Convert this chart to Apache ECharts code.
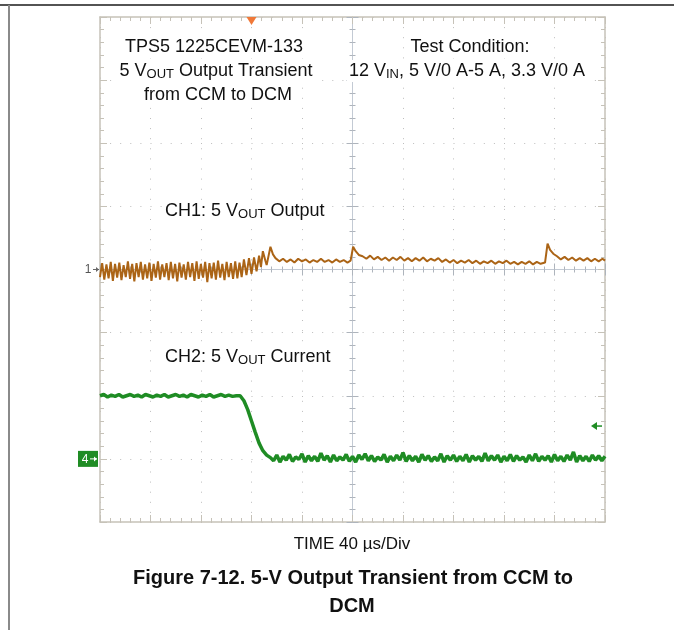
<!DOCTYPE html>
<html><head><meta charset="utf-8">
<script src="https://cdn.jsdelivr.net/npm/echarts@6/dist/echarts.min.js"></script>
<style>html,body{margin:0;padding:0;background:#fff}#c{width:674px;height:630px}</style>
</head><body><div id="c"></div>
<script>
// ---- axis ranges (time in µs, vertical in divisions) ----
const timeMin = 0, timeMax = 400, timePerDiv = 40;
const divMin = -4, divMax = 4;
const triggerTime = 120;
const ch1Ref = 0, ch2Ref = -3;

// ---- CH1: 5 V output (divisions) ----
const ch1Time = [0,1.7,3.4,5.1,6.8,8.5,10.2,11.9,13.6,15.3,17,18.7,20.4,22.1,23.8,25.5,27.2,28.9,30.6,32.3,34,35.7,37.4,39.1,40.8,42.5,44.2,45.9,47.6,49.3,51,52.7,54.4,56.1,57.8,59.5,61.2,62.9,64.6,66.3,68,69.7,71.4,73.1,74.8,76.5,78.2,79.9,81.6,83.3,85,86.7,88.4,90.1,91.8,93.5,95.2,96.9,98.6,100.3,102,103.7,105.4,107.1,108.8,110.5,112.2,114,116,118,120,122,124,126,127.5,129,131,132,135,137,139,142,145,148,151,154,157,160,163,166,169,172,175,178,181,184,187,190,193,196,198.5,200.5,202.5,205,208,211,214,217,220,223,226,229,232,235,238,241,244,247,250,253,256,259,262,265,268,271,274,277,280,283,286,289,292,295,298,301,304,307,310,313,316,319,322,325,328,331,334,337,340,343,346,349,352.5,354.5,356.5,359,362,365,368,371,374,377,380,383,386,389,392,395,398,400];
const ch1Div = [-0.12,0.10,-0.16,0.08,-0.14,0.12,-0.18,0.09,-0.13,0.11,-0.17,0.07,-0.12,0.13,-0.15,0.09,-0.19,0.10,-0.12,0.12,-0.16,0.08,-0.14,0.11,-0.18,0.09,-0.13,0.13,-0.16,0.08,-0.12,0.10,-0.17,0.12,-0.14,0.09,-0.19,0.11,-0.13,0.08,-0.16,0.12,-0.12,0.10,-0.18,0.13,-0.15,0.09,-0.13,0.12,-0.20,0.10,-0.14,0.11,-0.16,0.14,-0.13,0.09,-0.17,0.12,-0.12,0.10,-0.15,0.13,-0.14,0.11,-0.12,0.16,-0.09,0.18,-0.07,0.19,-0.03,0.22,0.04,0.29,0.14,0.07,0.36,0.24,0.18,0.13,0.17,0.12,0.16,0.11,0.17,0.13,0.16,0.11,0.15,0.12,0.17,0.12,0.15,0.11,0.16,0.12,0.15,0.11,0.14,0.36,0.29,0.23,0.21,0.17,0.22,0.16,0.20,0.15,0.19,0.14,0.19,0.15,0.20,0.14,0.18,0.13,0.18,0.14,0.19,0.13,0.17,0.14,0.18,0.12,0.16,0.11,0.15,0.10,0.14,0.11,0.15,0.10,0.14,0.09,0.13,0.10,0.14,0.09,0.13,0.10,0.14,0.09,0.12,0.08,0.12,0.09,0.13,0.08,0.12,0.09,0.11,0.41,0.31,0.25,0.21,0.16,0.20,0.15,0.19,0.14,0.18,0.14,0.18,0.13,0.17,0.13,0.17,0.14];

// ---- CH2: 5 V output current (divisions) ----
const ch2Time = [0,3,6,9,12,15,18,21,24,27,30,33,36,39,42,45,48,51,54,57,60,63,66,69,72,75,78,81,84,87,90,93,96,99,102,105,108,
  111,114,117,120,123,126,129,132,135,
  137.5,140,142.5,145,147.5,150,152.5,155,157.5,160,162.5,165,167.5,170,172.5,175,177.5,180,182.5,185,187.5,190,192.5,195,197.5,200,
  202.5,205,207.5,210,212.5,215,217.5,220,222.5,225,227.5,230,232.5,235,237.5,240,242.5,245,247.5,250,252.5,255,257.5,260,262.5,265,
  267.5,270,272.5,275,277.5,280,282.5,285,287.5,290,292.5,295,297.5,300,302.5,305,307.5,310,312.5,315,317.5,320,322.5,325,327.5,330,
  332.5,335,337.5,340,342.5,345,347.5,350,352.5,355,357.5,360,362.5,365,367.5,370,372.5,375,377.5,380,382.5,385,387.5,390,392.5,395,397.5,400];
const ch2Div = [-2.00,-1.98,-2.02,-1.99,-2.01,-1.98,-2.02,-2.00,-1.98,-2.01,-1.99,-2.02,-1.98,-2.00,-2.02,-1.99,-2.01,-1.98,-2.02,-2.00,-1.98,-2.01,-1.99,-2.02,-1.98,-2.00,-2.02,-1.99,-2.01,-1.98,-2.02,-2.00,-1.98,-2.01,-1.99,-2.01,-2.00,
  -2.00,-2.08,-2.22,-2.40,-2.58,-2.75,-2.87,-2.94,-2.98,
  -3.03,-2.94,-3.05,-2.96,-3.02,-2.93,-3.04,-2.97,-3.01,-2.92,
  -3.05,-2.95,-3.03,-2.96,-3.04,-2.91,-3.02,-2.95,-3.05,-2.94,
  -3.03,-2.97,-3.02,-2.93,-3.04,-2.96,-3.05,-2.94,-3.01,-2.92,
  -3.03,-2.95,-3.04,-2.97,-3.02,-2.93,-3.05,-2.96,-3.03,-2.94,
  -3.02,-2.90,-3.04,-2.95,-3.03,-2.96,-3.05,-2.93,-3.02,-2.95,
  -3.04,-2.97,-3.03,-2.92,-3.05,-2.95,-3.02,-2.94,-3.04,-2.96,
  -3.03,-2.93,-3.05,-2.95,-3.02,-2.96,-3.04,-2.91,-3.03,-2.95,
  -3.02,-2.94,-3.05,-2.96,-3.03,-2.93,-3.04,-2.95,-3.02,-2.97,
  -3.05,-2.94,-3.03,-2.92,-3.04,-2.96,-3.02,-2.95,-3.05,-2.93,
  -3.03,-2.96,-3.04,-2.94,-3.02,-2.89,-3.05,-2.95,-3.03,-2.96,
  -3.04,-2.94,-3.02,-2.95,-3.03,-2.96];

// ---- texts ----
const boxLeft = ['TPS5 1225CEVM-133', '5 V{s|OUT} Output Transient', 'from CCM to DCM'];
const boxRight = ['Test Condition:', '12 V{s|IN}, 5 V/0 A-5 A, 3.3 V/0 A'];
const ch1Label = 'CH1: 5 V{s|OUT} Output';
const ch2Label = 'CH2: 5 V{s|OUT} Current';
const xAxisTitle = 'TIME 40 µs/Div';
const figTitle = ['Figure 7-12. 5-V Output Transient from CCM to', 'DCM'];

const FONT = "'Liberation Sans', Arial, Helvetica, sans-serif";
const frameColor = '#c6c2b8';
const centerColor = '#c3cad4';
const ch1Color = '#ab6416';
const ch2Color = '#1f8c24';

const chart = echarts.init(document.getElementById('c'), null, {renderer: 'canvas'});
const gridRect = {left: 100, top: 17, width: 505, height: 505};

function frameX(pos) {
  return {type: 'value', gridIndex: 0, position: pos, min: timeMin, max: timeMax, interval: timePerDiv,
    axisLine: {show: true, onZero: false, lineStyle: {color: frameColor, width: 1.5}},
    axisTick: {show: true, inside: true, length: 7, lineStyle: {color: frameColor}},
    minorTick: {show: true, splitNumber: 5, length: 4, lineStyle: {color: frameColor}},
    axisLabel: {show: false},
    splitLine: {show: pos === 'bottom', lineStyle: {color: '#bdbdbd', type: [1, 9.1]}},
    minorSplitLine: {show: false}};
}
function frameY(pos) {
  return {type: 'value', gridIndex: 0, position: pos, min: divMin, max: divMax, interval: 1,
    axisLine: {show: true, onZero: false, lineStyle: {color: frameColor, width: 1.5}},
    axisTick: {show: true, inside: true, length: 7, lineStyle: {color: frameColor}},
    minorTick: {show: true, splitNumber: 5, length: 4, lineStyle: {color: frameColor}},
    axisLabel: {show: false},
    splitLine: {show: pos === 'left', lineStyle: {color: '#bdbdbd', type: [1, 9.1]}},
    minorSplitLine: {show: false}};
}
function centerX(gi, inside) {
  return {type: 'value', gridIndex: gi, min: -5, max: 5, interval: 1,
    axisLine: {show: true, onZero: true, lineStyle: {color: centerColor, width: 1}},
    axisTick: {show: true, inside: inside, length: 6, lineStyle: {color: '#aeb4bc'}},
    minorTick: {show: true, splitNumber: 5, length: 3, lineStyle: {color: '#aeb4bc'}},
    axisLabel: {show: false}, splitLine: {show: false}};
}
function centerY(gi, inside) {
  return {type: 'value', gridIndex: gi, min: divMin, max: divMax, interval: 1,
    axisLine: {show: true, onZero: true, lineStyle: {color: centerColor, width: 1}},
    axisTick: {show: true, inside: inside, length: 6, lineStyle: {color: '#aeb4bc'}},
    minorTick: {show: true, splitNumber: 5, length: 3, lineStyle: {color: '#aeb4bc'}},
    axisLabel: {show: false}, splitLine: {show: false}};
}

chart.setOption({
  animation: false,
  backgroundColor: '#fff',
  grid: [Object.assign({}, gridRect), Object.assign({}, gridRect), Object.assign({}, gridRect)],
  xAxis: [frameX('bottom'), frameX('top'), centerX(1, true), centerX(2, false)],
  yAxis: [frameY('left'), frameY('right'), centerY(1, true), centerY(2, false)],
  series: [
    {name: 'CH1', type: 'line', xAxisIndex: 0, yAxisIndex: 0, showSymbol: false, symbol: 'none', z: 5,
      lineStyle: {color: ch1Color, width: 2},
      data: ch1Time.map((t, i) => [t, ch1Div[i]])},
    {name: 'CH2', type: 'line', xAxisIndex: 0, yAxisIndex: 0, showSymbol: false, symbol: 'none', z: 5,
      lineStyle: {color: ch2Color, width: 3.5},
      data: ch2Time.map((t, i) => [t, ch2Div[i]])}
  ]
});

const px = (t, v) => chart.convertToPixel({xAxisIndex: 0, yAxisIndex: 0}, [t, v]);
const rich = {s: {fontSize: 13, fontFamily: FONT, fill: '#111', lineHeight: 8, verticalAlign: 'bottom'}};
function label(x, y, text, align) {
  return {type: 'text', x: x, y: y, z: 100, silent: true,
    style: {text: text, fontSize: 18, fontFamily: FONT, fill: '#111', align: align || 'center',
      verticalAlign: 'middle', lineHeight: 20, rich: rich, backgroundColor: '#fff', padding: [1, 2]}};
}

const p0 = px(timeMin, divMax);
const trig = px(triggerTime, divMax);
const r1 = px(timeMin, ch1Ref);
const r2 = px(timeMin, ch2Ref);
const arrowR = px(timeMax, -2.48);

const graphics = [
  {type: 'line', z: 50, shape: {x1: 0, y1: 5, x2: 674, y2: 5}, style: {stroke: '#1a1a1a', lineWidth: 1.5}},
  {type: 'line', z: 50, shape: {x1: 9, y1: 5, x2: 9, y2: 630}, style: {stroke: '#8a8a8a', lineWidth: 2}},
  // trigger marker
  {type: 'polygon', z: 60, shape: {points: [[trig[0] - 5, p0[1]], [trig[0] + 5, p0[1]], [trig[0], p0[1] + 8]]}, style: {fill: '#f07838'}},
  // CH1 ref marker
  {type: 'text', z: 60, x: r1[0] - 12, y: r1[1], style: {text: '1', fontSize: 12, fontFamily: FONT, fill: '#555', align: 'center', verticalAlign: 'middle'}},
  {type: 'line', z: 60, shape: {x1: r1[0] - 7, y1: r1[1], x2: r1[0] - 1, y2: r1[1]}, style: {stroke: '#666', lineWidth: 1}},
  {type: 'polygon', z: 60, shape: {points: [[r1[0] - 1, r1[1]], [r1[0] - 4, r1[1] - 2.5], [r1[0] - 4, r1[1] + 2.5]]}, style: {fill: '#666'}},
  // CH2 ref marker
  {type: 'rect', z: 60, shape: {x: r2[0] - 22, y: r2[1] - 8, width: 20, height: 16}, style: {fill: ch2Color}},
  {type: 'text', z: 61, x: r2[0] - 15, y: r2[1] + 1, style: {text: '4', fontSize: 12, fontFamily: FONT, fill: '#fff', align: 'center', verticalAlign: 'middle'}},
  {type: 'line', z: 61, shape: {x1: r2[0] - 10, y1: r2[1], x2: r2[0] - 3, y2: r2[1]}, style: {stroke: '#fff', lineWidth: 1}},
  {type: 'polygon', z: 61, shape: {points: [[r2[0] - 3, r2[1]], [r2[0] - 6, r2[1] - 2.5], [r2[0] - 6, r2[1] + 2.5]]}, style: {fill: '#fff'}},
  // right-side green arrow
  {type: 'line', z: 60, shape: {x1: arrowR[0] - 12, y1: arrowR[1], x2: arrowR[0] - 3, y2: arrowR[1]}, style: {stroke: ch2Color, lineWidth: 1.5}},
  {type: 'polygon', z: 60, shape: {points: [[arrowR[0] - 14, arrowR[1]], [arrowR[0] - 8, arrowR[1] - 4], [arrowR[0] - 8, arrowR[1] + 4]]}, style: {fill: ch2Color}},
  // annotation texts
  label(214, 47, boxLeft[0]), label(216, 71, boxLeft[1]), label(218, 95, boxLeft[2]),
  label(470, 47, boxRight[0]), label(467, 71, boxRight[1]),
  label(163, 211, ch1Label, 'left'), label(163, 357, ch2Label, 'left'),
  {type: 'text', z: 100, x: 352, y: 544, style: {text: xAxisTitle, fontSize: 17, fontFamily: FONT, fill: '#111', align: 'center', verticalAlign: 'middle'}},
  {type: 'text', z: 100, x: 353, y: 578, style: {text: figTitle[0], fontSize: 20, fontWeight: 'bold', fontFamily: FONT, fill: '#111', align: 'center', verticalAlign: 'middle'}},
  {type: 'text', z: 100, x: 352, y: 606, style: {text: figTitle[1], fontSize: 20, fontWeight: 'bold', fontFamily: FONT, fill: '#111', align: 'center', verticalAlign: 'middle'}}
];
chart.setOption({graphic: graphics});
</script></body></html>
